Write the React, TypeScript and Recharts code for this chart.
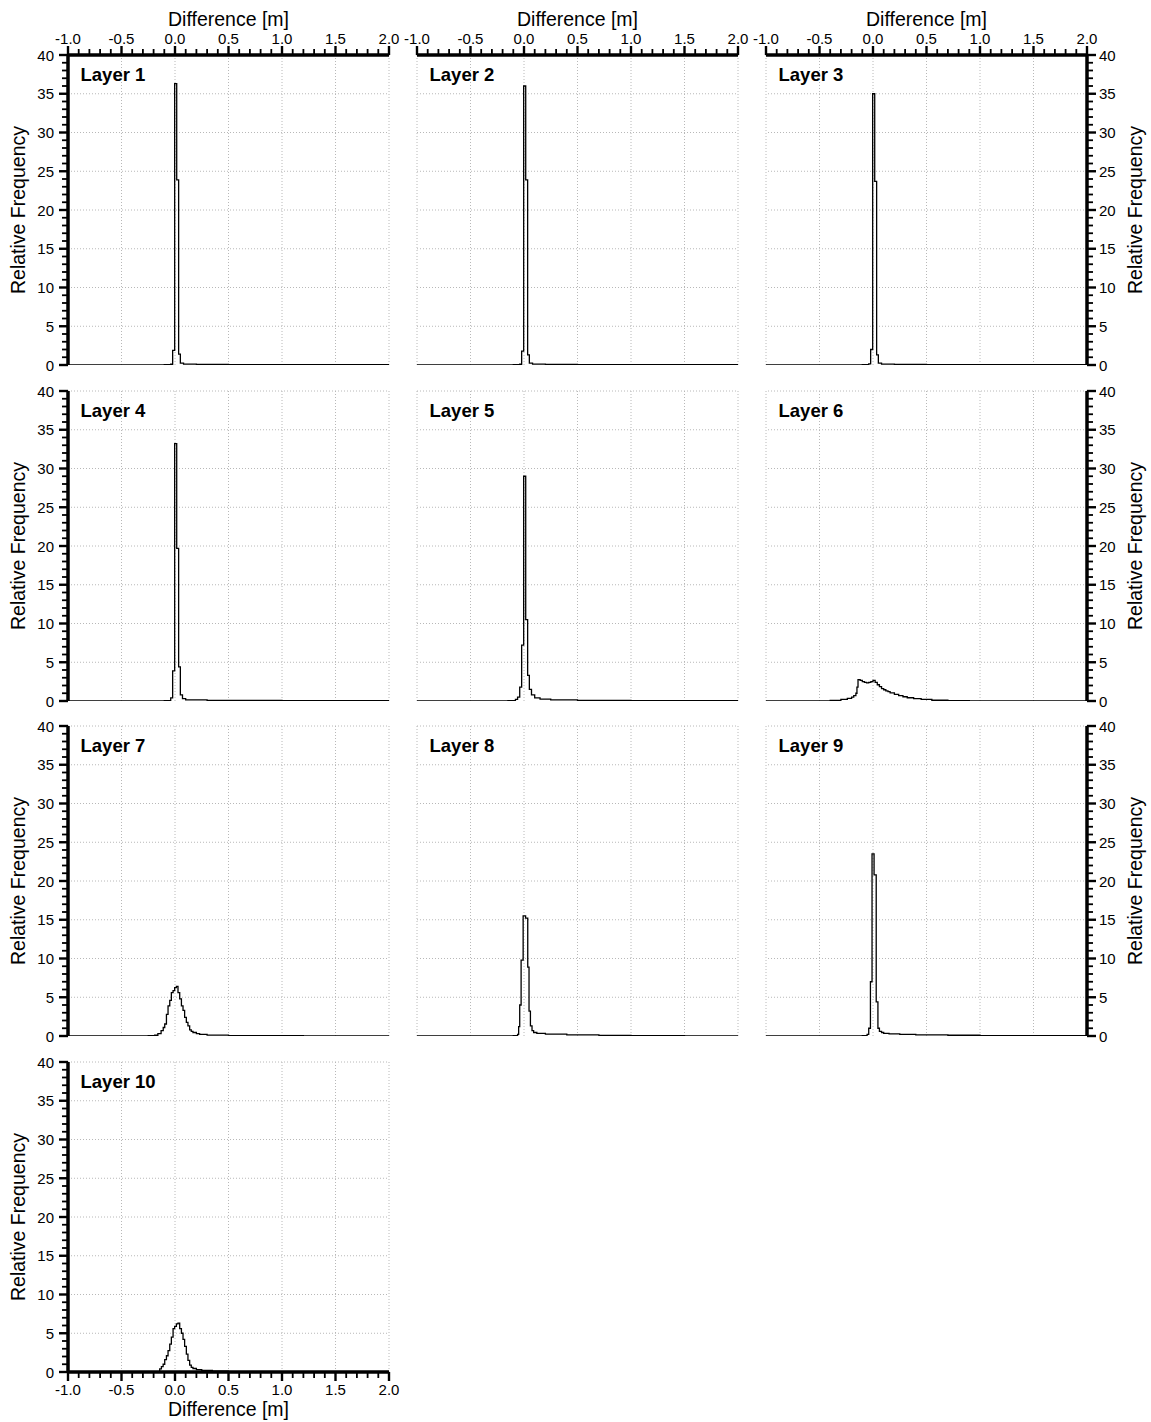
import React from "react";
import { LineChart, Line, XAxis, YAxis, ReferenceLine } from "recharts";

type Pt = [number, number];

// histogram steps: [bin start (m), relative frequency]
const layer1: Pt[] = [[-1.0, 0], [-0.3, 0.01], [-0.1, 0.03], [-0.04, 0.1], [-0.022, 1.9], [-0.003, 36.3], [0.016, 23.9], [0.034, 1.4], [0.05, 0.25], [0.08, 0.12], [0.2, 0.08], [0.5, 0.05], [1.0, 0.03], [2.0, 0]];
const layer2: Pt[] = [[-1.0, 0], [-0.3, 0.01], [-0.1, 0.03], [-0.04, 0.1], [-0.022, 1.8], [-0.003, 36.0], [0.016, 23.9], [0.034, 1.3], [0.05, 0.25], [0.08, 0.12], [0.2, 0.08], [0.5, 0.05], [1.0, 0.03], [2.0, 0]];
const layer3: Pt[] = [[-1.0, 0], [-0.3, 0.01], [-0.1, 0.03], [-0.04, 0.15], [-0.022, 2.0], [-0.003, 35.0], [0.016, 23.7], [0.034, 1.3], [0.05, 0.25], [0.08, 0.12], [0.2, 0.08], [0.5, 0.05], [1.0, 0.03], [2.0, 0]];
const layer4: Pt[] = [[-1.0, 0], [-0.3, 0.01], [-0.1, 0.04], [-0.04, 0.4], [-0.022, 3.9], [-0.003, 33.2], [0.016, 19.7], [0.034, 4.4], [0.05, 0.8], [0.07, 0.3], [0.1, 0.15], [0.3, 0.08], [1.0, 0.03], [2.0, 0]];
const layer5: Pt[] = [[-1.0, 0], [-0.3, 0.02], [-0.15, 0.06], [-0.08, 0.2], [-0.06, 0.5], [-0.04, 1.8], [-0.022, 7.2], [-0.003, 29.0], [0.016, 10.5], [0.034, 3.3], [0.05, 1.5], [0.07, 0.8], [0.1, 0.4], [0.15, 0.25], [0.25, 0.15], [0.5, 0.07], [1.0, 0.03], [2.0, 0]];
const layer6: Pt[] = [[-1.0, 0], [-0.6, 0.02], [-0.4, 0.08], [-0.3, 0.2], [-0.24, 0.35], [-0.2, 0.5], [-0.18, 0.7], [-0.16, 1.0], [-0.15, 1.8], [-0.14, 2.75], [-0.12, 2.65], [-0.1, 2.5], [-0.08, 2.4], [-0.06, 2.35], [-0.04, 2.4], [-0.02, 2.5], [0.0, 2.65], [0.02, 2.4], [0.04, 2.1], [0.06, 1.85], [0.08, 1.6], [0.1, 1.45], [0.12, 1.3], [0.14, 1.2], [0.16, 1.05], [0.2, 0.85], [0.24, 0.7], [0.28, 0.55], [0.32, 0.42], [0.38, 0.3], [0.45, 0.2], [0.55, 0.1], [0.7, 0.04], [0.9, 0.01], [2.0, 0]];
const layer7: Pt[] = [[-1.0, 0], [-0.4, 0.01], [-0.25, 0.04], [-0.19, 0.1], [-0.16, 0.3], [-0.13, 0.7], [-0.11, 1.1], [-0.096, 1.55], [-0.08, 2.8], [-0.065, 3.9], [-0.049, 4.6], [-0.034, 5.6], [-0.018, 5.85], [-0.003, 6.25], [0.013, 6.4], [0.028, 5.6], [0.044, 4.8], [0.06, 3.9], [0.075, 3.3], [0.09, 2.4], [0.106, 1.75], [0.121, 1.3], [0.137, 0.8], [0.152, 0.6], [0.168, 0.45], [0.2, 0.3], [0.23, 0.2], [0.3, 0.12], [0.5, 0.06], [0.8, 0.03], [1.2, 0.01], [2.0, 0]];
const layer8: Pt[] = [[-1.0, 0], [-0.3, 0.01], [-0.1, 0.03], [-0.06, 0.2], [-0.05, 1.2], [-0.04, 4.0], [-0.027, 9.8], [-0.008, 15.5], [0.015, 15.2], [0.035, 8.9], [0.047, 3.2], [0.06, 1.3], [0.075, 0.7], [0.09, 0.45], [0.12, 0.35], [0.2, 0.25], [0.4, 0.15], [0.7, 0.08], [1.0, 0.05], [1.5, 0.02], [2.0, 0]];
const layer9: Pt[] = [[-1.0, 0], [-0.3, 0.01], [-0.1, 0.03], [-0.055, 0.2], [-0.04, 1.0], [-0.024, 7.0], [-0.009, 23.5], [0.01, 20.8], [0.03, 4.4], [0.046, 1.0], [0.06, 0.6], [0.08, 0.45], [0.1, 0.35], [0.15, 0.28], [0.25, 0.2], [0.4, 0.15], [0.7, 0.1], [1.0, 0.06], [1.5, 0.03], [2.0, 0]];
const layer10: Pt[] = [[-1.0, 0], [-0.3, 0.01], [-0.17, 0.05], [-0.143, 0.4], [-0.127, 0.7], [-0.111, 1.0], [-0.096, 1.6], [-0.08, 2.1], [-0.065, 2.75], [-0.049, 3.6], [-0.034, 4.5], [-0.018, 5.6], [-0.003, 5.9], [0.013, 6.2], [0.028, 6.3], [0.044, 5.6], [0.06, 5.0], [0.075, 4.2], [0.09, 3.3], [0.106, 2.3], [0.121, 1.5], [0.137, 0.9], [0.152, 0.6], [0.168, 0.45], [0.2, 0.3], [0.25, 0.2], [0.35, 0.1], [0.5, 0.05], [0.8, 0.02], [2.0, 0]];

const xTicks = [-1.0, -0.9, -0.8, -0.7, -0.6, -0.5, -0.4, -0.3, -0.2, -0.1, 0.0, 0.1, 0.2, 0.3, 0.4, 0.5, 0.6, 0.7, 0.8, 0.9, 1.0, 1.1, 1.2, 1.3, 1.4, 1.5, 1.6, 1.7, 1.8, 1.9, 2.0];
const yTicks = [0, 1, 2, 3, 4, 5, 6, 7, 8, 9, 10, 11, 12, 13, 14, 15, 16, 17, 18, 19, 20, 21, 22, 23, 24, 25, 26, 27, 28, 29, 30, 31, 32, 33, 34, 35, 36, 37, 38, 39, 40];
const xGrid = [-1.0, -0.5, 0.0, 0.5, 1.0, 1.5, 2.0];
const yGrid = [5, 10, 15, 20, 25, 30, 35];

const X_TITLE = "Difference [m]";
const Y_TITLE = "Relative Frequency";

const panels = [
  { name: "Layer 1", data: layer1, col: 0, row: 0, top: true, left: true },
  { name: "Layer 2", data: layer2, col: 1, row: 0, top: true },
  { name: "Layer 3", data: layer3, col: 2, row: 0, top: true, right: true },
  { name: "Layer 4", data: layer4, col: 0, row: 1, left: true },
  { name: "Layer 5", data: layer5, col: 1, row: 1 },
  { name: "Layer 6", data: layer6, col: 2, row: 1, right: true },
  { name: "Layer 7", data: layer7, col: 0, row: 2, left: true },
  { name: "Layer 8", data: layer8, col: 1, row: 2 },
  { name: "Layer 9", data: layer9, col: 2, row: 2, right: true },
  { name: "Layer 10", data: layer10, col: 0, row: 3, left: true, bottom: true },
];

const PLOT_W = 321;
const PLOT_H = 310;
const PAD = 60;
const XH = 40;
const YW = 50;
const colLeft = [68, 417, 766];
const rowTop = [55, 391, 726, 1062];
const FONT = '"Liberation Sans", Arial, Helvetica, sans-serif';
const GRID = "#b8b8b8";
const TICK_FONT = 15;

const isMajor = (v: number, step: number) => Math.abs(v / step - Math.round(v / step)) < 1e-6;

function XTickMark(props: any) {
  const { x, y, payload, dir } = props;
  const v = payload.value;
  const major = isMajor(v, 0.5);
  return (
    <g>
      <line x1={x} y1={y} x2={x} y2={y + dir * (major ? 9 : 6)} stroke="#000" strokeWidth={major ? 2.4 : 1.8} />
      {major && (
        <text x={x} y={y + dir * 17} textAnchor="middle" dominantBaseline="central" fontSize={TICK_FONT} fill="#000">
          {v.toFixed(1)}
        </text>
      )}
    </g>
  );
}

function YTickMark(props: any) {
  const { x, y, payload, dir } = props;
  const v = payload.value;
  const major = isMajor(v, 5);
  return (
    <g>
      <line x1={x} y1={y} x2={x + dir * (major ? 9 : 6)} y2={y} stroke="#000" strokeWidth={major ? 2.4 : 1.8} />
      {major && (
        <text x={x + dir * (dir < 0 ? 14 : 12)} y={y} textAnchor={dir < 0 ? "end" : "start"} dominantBaseline="central" fontSize={TICK_FONT} fill="#000">
          {v}
        </text>
      )}
    </g>
  );
}

const xTitle = (dir: number) => (props: any) => {
  const vb = props.viewBox;
  const axisY = dir < 0 ? vb.y + vb.height : vb.y;
  return (
    <text x={vb.x + vb.width / 2} y={axisY + dir * 36.5} textAnchor="middle" dominantBaseline="central" fontSize={19.5} fill="#000">
      {X_TITLE}
    </text>
  );
};

const yTitle = (dir: number) => (props: any) => {
  const vb = props.viewBox;
  const axisX = dir < 0 ? vb.x + vb.width : vb.x;
  const cx = axisX + dir * (dir < 0 ? 50 : 48);
  const cy = vb.y + vb.height / 2;
  return (
    <text x={cx} y={cy} transform={`rotate(-90 ${cx} ${cy})`} textAnchor="middle" dominantBaseline="central" fontSize={19.5} fill="#000">
      {Y_TITLE}
    </text>
  );
};

function Panel({ name, data, col, row, top, bottom, left, right }: any) {
  const rows = data.map(([x, y]: Pt) => ({ x, y }));
  const margin = {
    top: PAD - (top ? XH : 0),
    bottom: PAD - (bottom ? XH : 0),
    left: PAD - (left ? YW : 0),
    right: PAD - (right ? YW : 0),
  };
  const xDir = bottom ? 1 : -1;
  const yDir = right ? 1 : -1;
  return (
    <div style={{ position: "absolute", left: colLeft[col] - PAD, top: rowTop[row] - PAD }}>
      <LineChart width={PLOT_W + 2 * PAD} height={PLOT_H + 2 * PAD} data={rows} margin={margin}>
        <XAxis
          dataKey="x"
          type="number"
          domain={[-1, 2]}
          ticks={xTicks}
          interval={0}
          allowDataOverflow
          orientation={bottom ? "bottom" : "top"}
          hide={!top && !bottom}
          height={XH}
          tickSize={0}
          tickMargin={0}
          tickLine={false}
          axisLine={{ stroke: "#000", strokeWidth: 3.5 }}
          tick={(p: any) => <XTickMark {...p} dir={xDir} />}
          label={{ content: xTitle(xDir) }}
        />
        <YAxis
          type="number"
          domain={[0, 40]}
          ticks={yTicks}
          interval={0}
          allowDataOverflow
          orientation={right ? "right" : "left"}
          hide={!left && !right}
          width={YW}
          tickSize={0}
          tickMargin={0}
          tickLine={false}
          axisLine={{ stroke: "#000", strokeWidth: 3.5 }}
          tick={(p: any) => <YTickMark {...p} dir={yDir} />}
          label={{ content: yTitle(yDir) }}
        />
        {xGrid.map((v) => (
          <ReferenceLine key={"gx" + v} x={v} stroke={GRID} strokeWidth={1} strokeDasharray="1 2" />
        ))}
        {yGrid.map((v) => (
          <ReferenceLine key={"gy" + v} y={v} stroke={GRID} strokeWidth={1} strokeDasharray="1 2" />
        ))}
        <ReferenceLine
          y={40}
          stroke={GRID}
          strokeWidth={1}
          strokeDasharray="1 2"
          label={{ value: name, position: "insideTopLeft", offset: 12.5, fontSize: 18.5, fontWeight: "bold", fill: "#000" }}
        />
        <Line type="stepAfter" dataKey="y" stroke="#000" strokeWidth={1.3} dot={false} isAnimationActive={false} />
      </LineChart>
    </div>
  );
}

export default function App() {
  return (
    <div style={{ position: "absolute", left: 0, top: 0, width: 1151, height: 1422, background: "#fff", overflow: "hidden", fontFamily: FONT }}>
      {panels.map((p) => (
        <Panel key={p.name} {...p} />
      ))}
    </div>
  );
}
